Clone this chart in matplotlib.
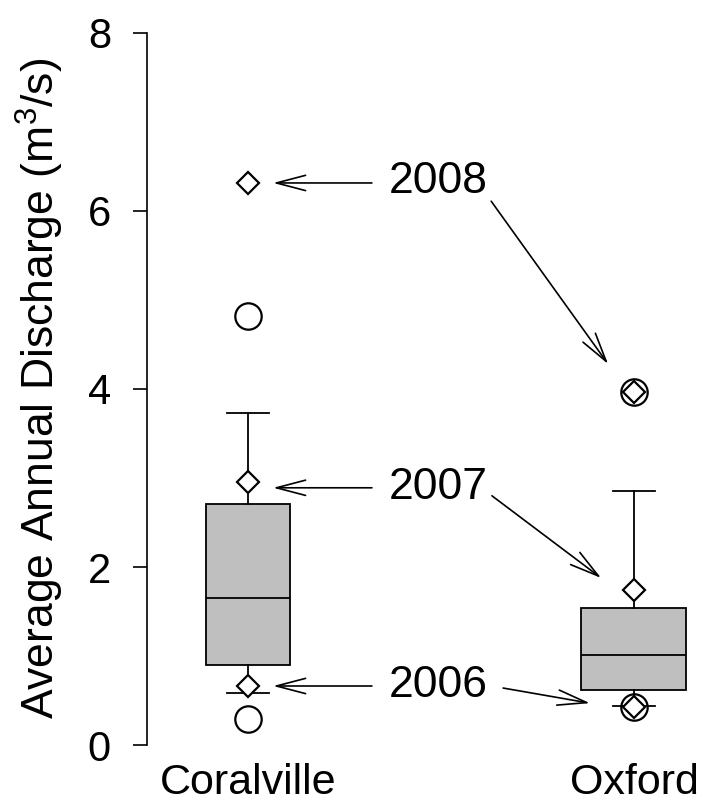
import matplotlib
matplotlib.use("Agg")
import matplotlib.pyplot as plt

plt.rcParams['font.family'] = ['Liberation Sans', 'DejaVu Sans']
plt.rcParams['mathtext.fontset'] = 'custom'
plt.rcParams['mathtext.rm'] = 'Liberation Sans'

# box statistics
sites = ["Coralville", "Oxford"]
q1 = [0.90, 0.62]
med = [1.65, 1.01]
q3 = [2.71, 1.54]
whislo = [0.58, 0.44]
whishi = [3.73, 2.85]
fliers = [[0.29, 4.82], [0.43, 3.97]]
box_widths = [0.218, 0.272]

# highlighted years (diamonds)
years = ["2008", "2007", "2006"]
year_coralville = [6.31, 2.95, 0.66]
year_oxford = [3.97, 1.74, 0.43]

# label positions and arrows (tail -> tip), data coords
label_x = 1.365
label_y = [6.198, 2.764, 0.539]
arrows_left = [((1.321, 6.315), (1.065, 6.315)),
               ((1.321, 2.89), (1.065, 2.89)),
               ((1.321, 0.663), (1.065, 0.663))]
arrows_right = [((1.630, 6.11), (1.933, 4.28)),
                ((1.632, 2.80), (1.915, 1.876)),
                ((1.661, 0.64), (1.886, 0.47))]

fig = plt.figure(figsize=(7.01, 8.10), dpi=100)
ax = fig.add_axes([147 / 701, 1 - 760 / 810, 554 / 701, 740 / 810])

stats = []
for i in range(len(sites)):
    stats.append(dict(med=med[i], q1=q1[i], q3=q3[i], whislo=whislo[i],
                      whishi=whishi[i], fliers=fliers[i], label=sites[i]))

lw = 1.3
ax.bxp(stats, positions=[1, 2], widths=box_widths, capwidths=[0.109, 0.109],
       patch_artist=True, showfliers=True,
       boxprops=dict(facecolor='#bfbfbf', edgecolor='black', linewidth=lw),
       medianprops=dict(color='black', linewidth=lw),
       whiskerprops=dict(color='black', linewidth=lw, linestyle='-'),
       capprops=dict(color='black', linewidth=lw),
       flierprops=dict(marker='o', markerfacecolor='none', markeredgecolor='black',
                       markersize=19, markeredgewidth=1.6))

ax.plot([1] * 3, year_coralville, 'D', mfc='white', mec='black', ms=11, mew=1.6, zorder=5)
ax.plot([2] * 3, year_oxford, 'D', mfc='white', mec='black', ms=11, mew=1.6, zorder=5)

for i, yr in enumerate(years):
    ax.text(label_x, label_y[i], yr, fontsize=32, ha='left', va='baseline')
    for tail, tip in (arrows_left[i], arrows_right[i]):
        ax.annotate('', xy=tip, xytext=tail,
                    arrowprops=dict(arrowstyle='->,head_length=21,head_width=5.5',
                                    mutation_scale=1, lw=1.2, color='black',
                                    shrinkA=0, shrinkB=0))

ax.set_xlim(0.7383, 2.1736)
ax.set_ylim(-0.1685, 8.146)
ax.set_yticks([0, 2, 4, 6, 8])
ax.tick_params(axis='y', labelsize=30, length=10, width=1.2, pad=16)
ax.set_xticks([1, 2])
ax.set_xticklabels(sites)
ax.tick_params(axis='x', labelsize=31, length=0, pad=2)
for s in ['top', 'right', 'bottom']:
    ax.spines[s].set_visible(False)
ax.spines['left'].set_bounds(0, 8)
ax.spines['left'].set_linewidth(1.2)

fig.text(40 / 701, 1 - 388 / 810, r'Average Annual Discharge (m$^3$/s)',
         rotation=90, fontsize=32, ha='center', va='center')

fig.savefig("out.png", dpi=100)
